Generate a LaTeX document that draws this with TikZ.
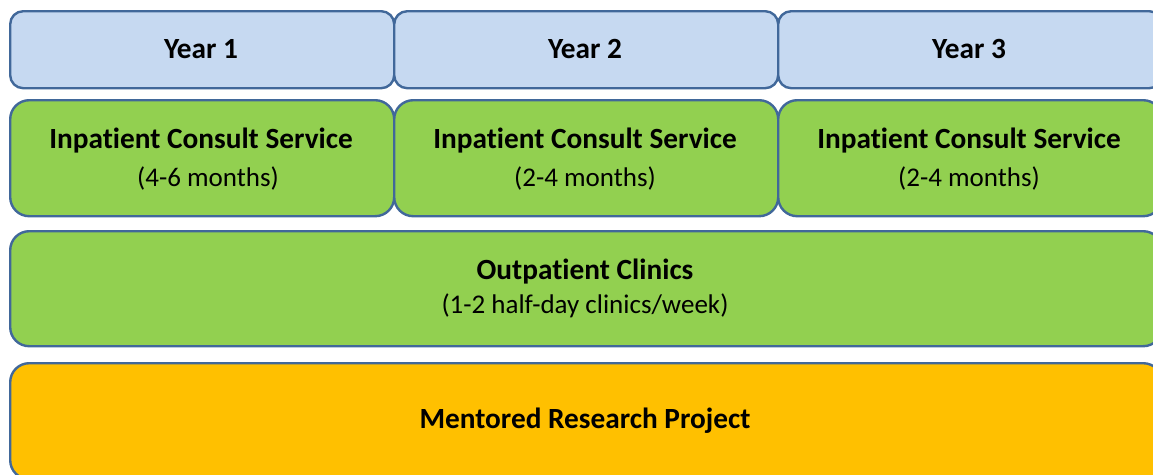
\documentclass[tikz,border=0pt]{standalone}
\usepackage{fontspec}
\setmainfont[Ligatures={NoCommon}]{Carlito}
\definecolor{yearfill}{HTML}{C6D9F1}
\definecolor{greenfill}{HTML}{92D050}
\definecolor{orangefill}{HTML}{FFC000}
\definecolor{edge}{HTML}{41689A}
\tikzset{
  cell/.style={draw=edge, line width=2.4pt, anchor=north west, inner sep=0pt, align=center},
  yearbox/.style={cell, fill=yearfill, rounded corners=13pt, minimum width=384pt, minimum height=77pt},
  inbox/.style={cell, fill=greenfill, rounded corners=19pt, minimum width=384pt, minimum height=116pt},
  outbox/.style={cell, fill=greenfill, rounded corners=19pt, minimum width=1152pt, minimum height=115pt},
  resbox/.style={cell, fill=orangefill, rounded corners=19pt, minimum width=1152pt, minimum height=116pt},
  bt/.style={font=\fontsize{29.3}{34}\selectfont\bfseries},
  rt/.style={font=\fontsize{27}{32}\selectfont},
}
\begin{document}
\begin{tikzpicture}[x=1pt,y=-1pt]
\useasboundingbox (0,0) rectangle (1153,474);
\clip (0,0) rectangle (1153,474);
\node[yearbox] (y1) at (9,10) {};
\node[yearbox] (y2) at (393,10) {};
\node[yearbox] (y3) at (777,10) {};
\node[bt] (y1t) at (201,49) {Year 1};
\node[bt] (y2t) at (585,49) {Year 2};
\node[bt] (y3t) at (969,49) {Year 3};
\node[inbox] (i1) at (9,99) {};
\node[inbox] (i2) at (393,99) {};
\node[inbox] (i3) at (777,99) {};
\node[bt] (i1a) at (201,141) {Inpatient Consult Service};
\node[rt] (i1b) at (208,178) {(4-6 months)};
\node[bt] (i2a) at (585,141) {Inpatient Consult Service};
\node[rt] (i2b) at (585,178) {(2-4 months)};
\node[bt] (i3a) at (969,141) {Inpatient Consult Service};
\node[rt] (i3b) at (969,178) {(2-4 months)};
\node[outbox] (o) at (9,230) {};
\node[bt] (oa) at (585,272) {Outpatient Clinics};
\node[rt] (ob) at (585,306) {(1-2 half-day clinics/week)};
\node[resbox] (r) at (9,362) {};
\node[bt] (ra) at (585,421) {Mentored Research Project};
\end{tikzpicture}
\end{document}
